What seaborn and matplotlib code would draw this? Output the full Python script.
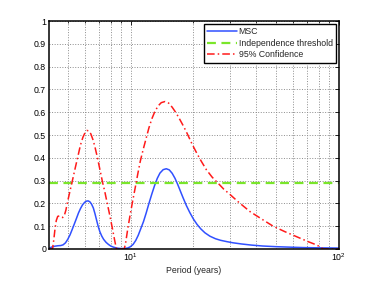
import numpy as np
import pandas as pd
import seaborn as sns
import matplotlib
matplotlib.use("Agg")
import matplotlib.pyplot as plt
from matplotlib.ticker import FixedLocator, NullFormatter, LogLocator

# MSC curve (period in years, coherence)
msc_period = [4.04, 4.15, 4.3, 4.45, 4.6, 4.72, 4.85, 4.97, 5.1, 5.22, 5.35, 5.48, 5.6,
              5.73, 5.86, 6.0, 6.12, 6.23, 6.35, 6.47, 6.6, 6.72, 6.85, 6.97, 7.1, 7.25,
              7.4, 7.6, 7.8, 8.0, 8.25, 8.55, 8.9, 9.3, 9.65, 9.95, 10.25, 10.55, 10.85,
              11.15, 11.5, 11.85, 12.2, 12.6, 13.0, 13.4, 13.8, 14.3, 14.8, 15.3, 15.8,
              16.3, 16.8, 17.3, 17.8, 18.5, 19.2, 20.0, 20.8, 21.7, 22.7, 24, 25.5, 27,
              29, 31, 34, 38, 43, 50, 58, 68, 80, 100]
msc_value = [0.003, 0.008, 0.012, 0.014, 0.015, 0.018, 0.027, 0.042, 0.062, 0.085, 0.11,
             0.135, 0.158, 0.178, 0.194, 0.205, 0.21, 0.211, 0.207, 0.197, 0.18, 0.155,
             0.125, 0.098, 0.075, 0.056, 0.042, 0.029, 0.02, 0.013, 0.008, 0.004, 0.002,
             0.002, 0.004, 0.01, 0.02, 0.037, 0.06, 0.088, 0.12, 0.158, 0.198, 0.24,
             0.278, 0.31, 0.333, 0.348, 0.352, 0.347, 0.332, 0.31, 0.283, 0.254, 0.226,
             0.19, 0.16, 0.131, 0.108, 0.088, 0.071, 0.056, 0.045, 0.038, 0.032, 0.027,
             0.022, 0.017, 0.013, 0.01, 0.008, 0.006, 0.005, 0.004]

# 95% confidence curve
conf_period = [4.04, 4.2, 4.26, 4.32, 4.38, 4.45, 4.53, 4.62, 4.7, 4.78, 4.87, 4.97, 5.1,
               5.25, 5.4, 5.56, 5.72, 5.88, 6.02, 6.15, 6.28, 6.42, 6.57, 6.71, 6.85, 7.0,
               7.15, 7.3, 7.5, 7.7, 7.93, 8.15, 8.35, 8.5, 8.6, 9.3, 9.45, 9.65, 9.9, 10.2,
               10.5, 10.8, 11.1, 11.45, 11.8, 12.2, 12.6, 13.0, 13.5, 14.0, 14.6, 15.2,
               15.8, 16.5, 17.2, 18.0, 18.8, 19.7, 20.7, 21.8, 23.1, 24.6, 26.3, 28.0,
               29.9, 32.8, 37.4, 43.3, 48.3, 55, 62.6, 71.2, 77, 81.1, 84, 100]
conf_value = [0.0, 0.0, 0.04, 0.09, 0.125, 0.143, 0.145, 0.14, 0.138, 0.145, 0.17, 0.21,
              0.255, 0.305, 0.355, 0.405, 0.455, 0.49, 0.51, 0.52, 0.518, 0.505, 0.48,
              0.45, 0.415, 0.375, 0.335, 0.295, 0.25, 0.2, 0.145, 0.09, 0.04, 0.005, 0.0,
              0.0, 0.03, 0.085, 0.145, 0.21, 0.27, 0.33, 0.385, 0.435, 0.48, 0.53, 0.57,
              0.6, 0.627, 0.642, 0.647, 0.64, 0.622, 0.597, 0.568, 0.535, 0.5, 0.46,
              0.422, 0.385, 0.347, 0.315, 0.288, 0.262, 0.24, 0.207, 0.164, 0.127, 0.10,
              0.076, 0.054, 0.032, 0.02, 0.01, 0.0, 0.0]

threshold = 0.288

y_ticks = [0, 0.1, 0.2, 0.3, 0.4, 0.5, 0.6, 0.7, 0.8, 0.9, 1]
y_tick_labels = ["0", "0.1", "0.2", "0.3", "0.4", "0.5", "0.6", "0.7", "0.8", "0.9", "1"]

sns.set_style("white")
plt.rcParams['font.family'] = ['Liberation Sans', 'DejaVu Sans']
plt.rcParams['mathtext.fontset'] = 'custom'
plt.rcParams['mathtext.rm'] = 'Liberation Sans'
plt.rcParams['mathtext.it'] = 'Liberation Sans'

fig = plt.figure(figsize=(3.74, 2.81), dpi=100)
ax = fig.add_axes([0.131, 0.114, 0.775, 0.811])

sns.lineplot(x=msc_period, y=msc_value, ax=ax, color="#3050ff", lw=1.1,
             label="MSC", estimator=None, sort=False)
ax.axhline(threshold, color="#7ae62a", lw=1.6, ls=(0, (4, 2.5)),
           label="Independence threshold")
sns.lineplot(x=conf_period, y=conf_value, ax=ax, color="#ff1a1a", lw=1.1,
             ls=(0, (5, 2, 1, 2)), label="95% Confidence", estimator=None, sort=False)

ax.set_xscale("log")
ax.set_xlim(4.04, 100)
ax.set_ylim(0, 1)
ax.xaxis.set_major_locator(FixedLocator([10, 100]))
ax.xaxis.set_minor_locator(LogLocator(base=10, subs=np.arange(2, 10)))
ax.xaxis.set_minor_formatter(NullFormatter())
ax.set_yticks(y_ticks)
ax.set_yticklabels(y_tick_labels)

ax.grid(True, which="major", color="#8c8c8c", ls=":", lw=0.7)
ax.grid(True, which="minor", axis="x", color="#8c8c8c", ls=":", lw=0.7)

ax.tick_params(which="both", direction="in", top=True, right=True, labelsize=6.3,
               colors="black", pad=2)
ax.tick_params(which="major", length=3, width=0.6)
ax.tick_params(which="minor", length=1.5, width=0.5)
for s in ax.spines.values():
    s.set_color("black")
    s.set_linewidth(1.1)

ax.set_xlabel("Period (years)", fontsize=6.3, labelpad=2)
ax.set_ylabel("")

leg = ax.legend(loc="upper right", fontsize=6.3, frameon=True, fancybox=False,
                edgecolor="black", framealpha=1, handlelength=3.4, borderpad=0.35,
                labelspacing=0.3, handletextpad=0.2, borderaxespad=0.35)
leg.get_frame().set_linewidth(1.0)

plt.savefig("out.png", dpi=100)
